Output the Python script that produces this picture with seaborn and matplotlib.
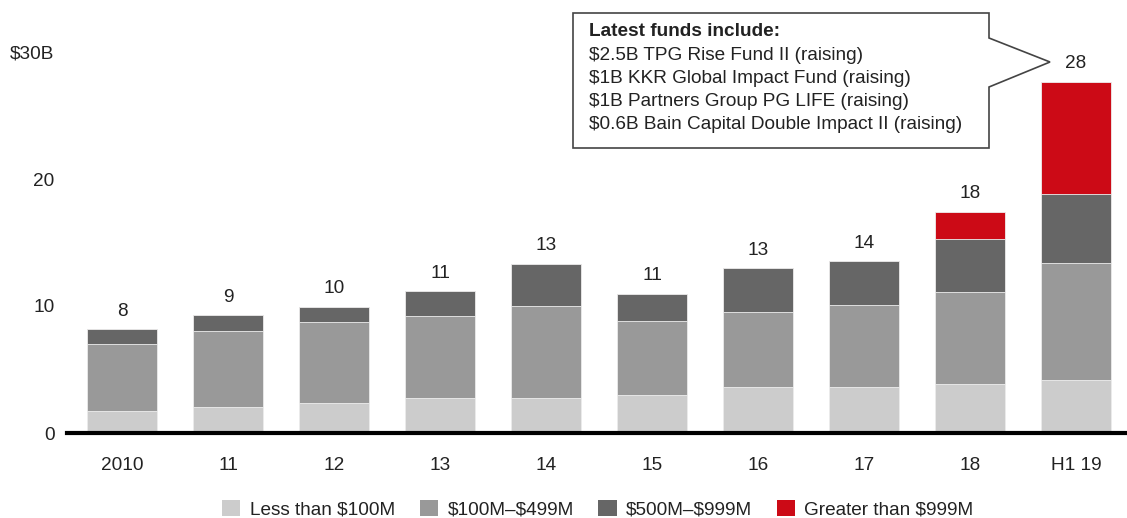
import numpy as np
import pandas as pd
import seaborn as sns
import matplotlib.pyplot as plt
from matplotlib.patches import Patch, Polygon

# Data ($B)
years = ['2010', '11', '12', '13', '14', '15', '16', '17', '18', 'H1 19']
less_100m = [1.73, 2.07, 2.39, 2.73, 2.78, 3.02, 3.62, 3.62, 3.86, 4.20]
m100_499 = [5.25, 5.96, 6.35, 6.51, 7.19, 5.80, 5.91, 6.46, 7.22, 9.19]
m500_999 = [1.19, 1.24, 1.18, 1.92, 3.33, 2.15, 3.44, 3.44, 4.22, 5.41]
over_999m = [0, 0, 0, 0, 0, 0, 0, 0, 2.13, 8.84]
total_labels = ['8', '9', '10', '11', '13', '11', '13', '14', '18', '28']

series_names = ['Less than $100M', '$100M\u2013$499M', '$500M\u2013$999M', 'Greater than $999M']
colors = ['#cccccc', '#999999', '#666666', '#cc0a16']

box_title = 'Latest funds include:'
box_lines = ['$2.5B TPG Rise Fund II (raising)',
             '$1B KKR Global Impact Fund (raising)',
             '$1B Partners Group PG LIFE (raising)',
             '$0.6B Bain Capital Double Impact II (raising)']

df = pd.DataFrame({'year': years, 'a': less_100m, 'b': m100_499, 'c': m500_999, 'd': over_999m})
df['cum_a'] = df['a']
df['cum_b'] = df['cum_a'] + df['b']
df['cum_c'] = df['cum_b'] + df['c']
df['cum_d'] = df['cum_c'] + df['d']

sns.set_style('white')
plt.rcParams['font.family'] = ['Liberation Sans', 'DejaVu Sans']
plt.rcParams['text.parse_math'] = False
FS = 13.7
TXT = '#222222'

W, H = 1127, 518
fig = plt.figure(figsize=(W / 100, H / 100), dpi=100)
ax = fig.add_axes([67 / W, (H - 433) / H, 1060 / W, 433 / H])

# stacked bars drawn as overlapping cumulative bars, tallest first
for col, color in zip(['cum_d', 'cum_c', 'cum_b', 'cum_a'], colors[::-1]):
    sns.barplot(data=df, x='year', y=col, order=years, color=color, width=0.66,
                saturation=1, edgecolor='#eeeeee', linewidth=0.6, ax=ax)

# totals above bars
for i, lab in enumerate(total_labels):
    ax.annotate(lab, (i, df['cum_d'][i]), xytext=(0, 7), textcoords='offset points',
                ha='center', va='bottom', fontsize=FS, color=TXT, annotation_clip=False)

ax.set_xlim(-0.52, 9.48)
ax.set_ylim(0, 433 / 12.7)
ax.set_yticks([0, 10, 20, 30])
ax.set_yticklabels(['0', '10', '20', '$30B'])
ax.set_xlabel('')
ax.set_ylabel('')
ax.tick_params(axis='y', length=0, pad=9, labelsize=FS, labelcolor=TXT)
ax.tick_params(axis='x', length=0, pad=17, labelsize=FS, labelcolor=TXT)
for s in ['top', 'right', 'left']:
    ax.spines[s].set_visible(False)
ax.spines['bottom'].set_linewidth(3)
ax.spines['bottom'].set_color('black')

# callout box
pts = [(573, 13), (989, 13), (989, 38), (1050, 62), (989, 87), (989, 148), (573, 148)]
poly = Polygon([(x / W, 1 - y / H) for x, y in pts], closed=True, transform=fig.transFigure,
               facecolor='white', edgecolor='#444444', linewidth=1.2, zorder=5)
fig.patches.append(poly)
fig.text(589 / W, 1 - 32 / H, box_title, fontsize=FS, fontweight='bold',
         va='center', ha='left', color=TXT, zorder=6)
for k, line in enumerate(box_lines):
    fig.text(589 / W, 1 - (55 + 23.3 * k) / H, line, fontsize=FS, va='center', ha='left',
             color=TXT, zorder=6)

# legend
handles = [Patch(facecolor=c, edgecolor='none') for c in colors]
fig.legend(handles, series_names, loc='center', bbox_to_anchor=(598 / W, 1 - 509 / H), ncol=4,
           frameon=False, fontsize=FS, handlelength=0.95, handleheight=0.95,
           handletextpad=0.5, columnspacing=1.3, labelcolor=TXT, borderpad=0)

fig.savefig('out.png', dpi=100)
